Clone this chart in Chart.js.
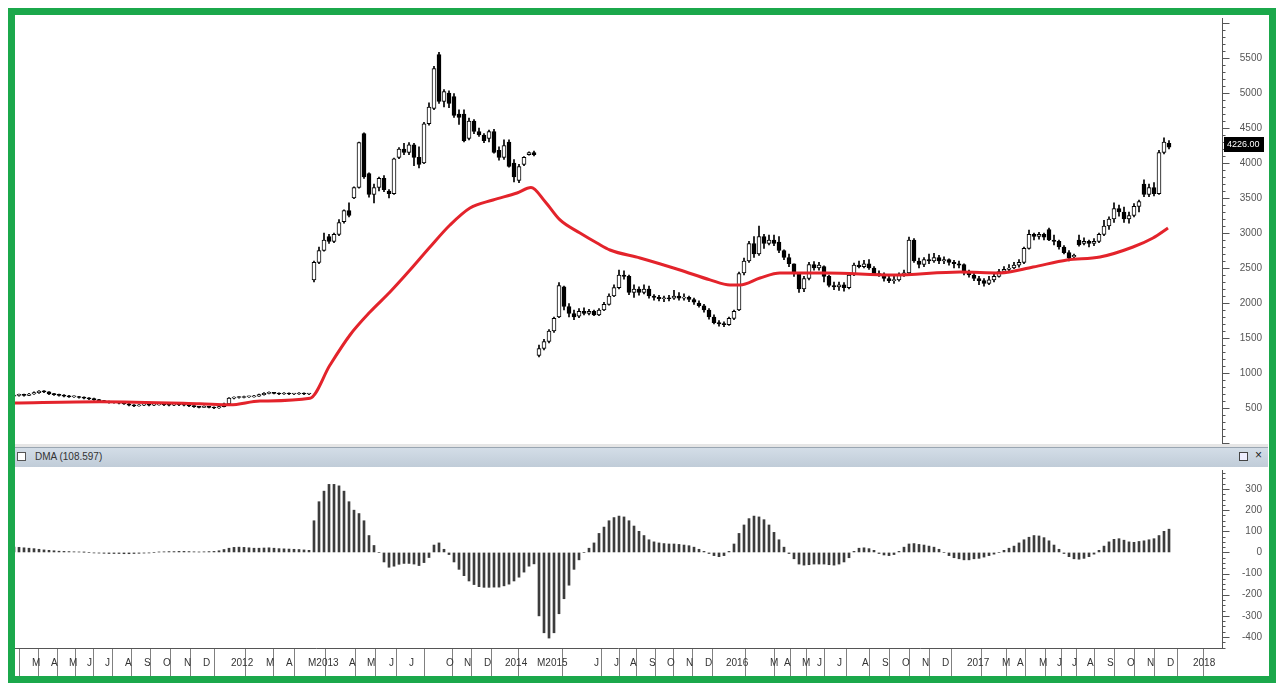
<!DOCTYPE html>
<html><head><meta charset="utf-8">
<script src="https://cdn.jsdelivr.net/npm/chart.js@4.4.1/dist/chart.umd.min.js"></script>
<style>
html,body{margin:0;padding:0;background:#fff;width:1276px;height:683px;overflow:hidden;font-family:"Liberation Sans",Arial,sans-serif;}
#top{position:absolute;left:0;top:0;}
#bot{position:absolute;left:0;top:460px;}
#hdr{position:absolute;z-index:2;left:14px;top:444px;width:1254px;height:23px;background:linear-gradient(#e6e6e6 0,#e6e6e6 3px,#9aa6b2 3px,#9aa6b2 4px,#d3dde7 4px,#c0ccd8 100%);}
#hdr .t{position:absolute;left:21px;top:7px;font-size:10px;color:#333;}
#hdr .cb{position:absolute;left:3px;top:8px;width:7px;height:7px;border:1px solid #555;background:#fff;}
#hdr .i1{position:absolute;left:1225px;top:8px;width:7px;height:7px;border:1px solid #444;background:#eef;}
#hdr .i2{position:absolute;left:1241px;top:4px;font-size:12px;color:#222;}
#frame{position:absolute;z-index:3;left:8px;top:8px;width:1254px;height:661px;border:7px solid #1ba84b;pointer-events:none;}
</style></head>
<body>
<canvas id="top" width="1268" height="450"></canvas>
<div id="hdr"><div class="cb"></div><div class="t">DMA (108.597)</div><div class="i1"></div><div class="i2">×</div></div>
<canvas id="bot" width="1268" height="216"></canvas>
<div id="frame"></div>
<script>
const priceOpen = [
670,680,690,680,700,720,740,730,700,690,
680,670,660,660,650,640,630,620,600,590,
580,580,570,560,540,530,540,550,540,545,
550,545,540,550,545,540,530,520,510,520,
510,500,520,560,640,650,650,660,660,670,
690,710,720,710,700,710,700,700,710,700,
2330,2580,2750,2950,2880,2980,3160,3320,3500,3650,
4420,3850,3550,3650,3780,3600,3560,4080,4200,4150,
4260,4080,4000,4560,4780,5550,4880,5000,4950,4700,
4700,4350,4600,4450,4400,4350,4450,4180,4080,4300,
4000,3750,3980,4120,4150,1250,1350,1450,1600,1800,
2230,1950,1850,1810,1880,1850,1880,1830,1900,1980,
2100,2220,2400,2380,2150,2200,2150,2200,2100,2080,
2060,2070,2070,2100,2070,2080,2050,2000,1960,1900,
1800,1720,1700,1690,1780,1900,2430,2600,2850,2700,
2950,2850,2900,2870,2750,2650,2560,2420,2200,2350,
2550,2500,2520,2380,2250,2230,2260,2220,2400,2540,
2520,2560,2500,2420,2400,2350,2320,2330,2400,2430,
2900,2600,2550,2620,2600,2650,2600,2620,2580,2560,
2550,2430,2400,2350,2320,2280,2330,2380,2450,2480,
2500,2540,2580,2780,2980,2950,2980,3050,2900,2880,
2800,2720,2660,2900,2850,2880,2850,2880,2980,3100,
3200,3350,3300,3200,3250,3380,3700,3550,3650,3560,
4150,4280];
const priceHigh = [
695,700,700,710,730,750,750,735,710,700,
690,680,675,665,660,650,640,625,610,600,
595,585,575,565,550,550,560,555,555,560,
555,550,560,555,550,545,535,525,530,525,
515,530,570,650,660,665,670,670,680,700,
720,730,725,715,720,715,710,720,715,710,
2600,2800,3000,2980,3000,3190,3330,3430,3660,4300,
4430,3860,3700,3800,3820,3620,4070,4220,4280,4290,
4280,4230,4580,4860,5380,5580,5050,5030,4990,4760,
4760,4640,4620,4500,4420,4470,4480,4230,4330,4330,
4050,3980,4090,4160,4170,1400,1480,1620,1800,2290,
2240,1990,1900,1920,1930,1910,1900,1920,2010,2130,
2260,2470,2460,2400,2260,2230,2260,2240,2120,2110,
2100,2110,2180,2150,2130,2100,2070,2030,1980,1920,
1830,1750,1730,1800,1900,2440,2640,2880,2950,3100,
2980,2970,2970,2950,2760,2700,2560,2430,2380,2580,
2590,2580,2530,2400,2300,2300,2290,2430,2570,2600,
2610,2620,2520,2460,2430,2400,2380,2430,2470,2940,
2920,2640,2650,2700,2710,2680,2660,2630,2610,2600,
2560,2470,2430,2380,2350,2380,2420,2480,2520,2550,
2580,2620,2800,3040,3000,3010,3000,3070,2970,2900,
2820,2750,2700,2970,2930,2900,2920,3000,3180,3230,
3430,3400,3370,3300,3420,3470,3760,3700,3720,4180,
4360,4320];
const priceLow = [
660,670,670,675,695,710,720,690,680,670,
660,650,650,640,630,620,610,590,580,570,
570,560,550,530,520,525,535,530,535,540,
535,530,535,535,530,520,510,500,505,500,
490,495,515,555,630,640,645,650,655,665,
685,700,700,690,695,690,690,695,690,690,
2300,2560,2740,2850,2860,2960,3140,3230,3490,3640,
3780,3510,3430,3600,3590,3500,3550,4060,4120,4120,
3960,3930,3990,4540,4760,4850,4800,4790,4650,4550,
4300,4330,4420,4380,4290,4300,4140,4040,4050,3940,
3730,3720,3960,4110,4100,1230,1330,1430,1580,1790,
1900,1800,1760,1790,1830,1830,1820,1820,1890,1970,
2090,2200,2340,2120,2080,2110,2130,2070,2040,2030,
2020,2030,2050,2040,2040,2020,1980,1940,1870,1770,
1700,1670,1660,1680,1760,1890,2400,2580,2650,2680,
2780,2830,2820,2720,2620,2520,2380,2150,2160,2330,
2470,2470,2300,2230,2190,2180,2170,2200,2390,2500,
2500,2480,2400,2380,2310,2290,2280,2310,2380,2420,
2580,2500,2520,2560,2580,2560,2560,2540,2500,2500,
2400,2370,2320,2260,2240,2260,2300,2370,2430,2460,
2490,2510,2560,2770,2900,2910,2900,2890,2830,2770,
2700,2600,2630,2810,2830,2800,2820,2860,2960,3050,
3150,3240,3150,3140,3230,3300,3520,3520,3530,3550,
4130,4200];
const priceClose = [
680,690,680,700,720,740,730,700,690,680,
670,660,660,650,640,630,620,600,590,580,
580,570,560,540,530,540,550,540,545,550,
545,540,550,545,540,530,520,510,520,510,
500,520,560,640,650,650,660,660,670,690,
710,720,710,700,710,700,700,710,700,700,
2580,2750,2900,2880,2980,3150,3320,3250,3650,4290,
3800,3550,3650,3780,3620,3560,4060,4200,4150,4260,
4080,3980,4560,4800,5350,4880,5020,4850,4680,4650,
4320,4600,4450,4400,4320,4450,4150,4080,4250,3950,
3800,3950,4080,4150,4120,1350,1450,1600,1780,2250,
1950,1850,1800,1880,1850,1880,1830,1900,1980,2100,
2220,2400,2380,2150,2200,2150,2200,2100,2080,2060,
2070,2060,2100,2070,2080,2050,2010,1960,1900,1800,
1720,1700,1690,1780,1880,2420,2600,2850,2700,2950,
2850,2900,2850,2750,2650,2560,2420,2200,2350,2550,
2500,2540,2380,2250,2230,2260,2220,2400,2540,2520,
2560,2500,2420,2400,2350,2320,2330,2400,2430,2900,
2600,2550,2620,2600,2650,2600,2620,2580,2560,2540,
2430,2400,2350,2320,2280,2330,2380,2450,2480,2500,
2540,2580,2780,2980,2950,2980,2940,2900,2880,2800,
2720,2640,2680,2830,2880,2850,2880,2980,3100,3200,
3350,3300,3200,3250,3380,3450,3550,3650,3560,4150,
4300,4226];
const dmaValues = [
25,24,22,20,18,15,12,10,8,6,
5,4,3,2,1,0,-2,-3,-4,-5,
-5,-5,-6,-6,-5,-4,-3,-2,0,2,
3,4,4,5,5,4,3,2,3,4,
5,8,14,20,24,25,24,22,20,20,
21,22,20,18,17,16,15,14,12,10,
150,240,290,322,322,315,290,240,200,184,
150,80,33,0,-45,-70,-65,-56,-52,-52,
-55,-62,-48,-24,35,45,15,-10,-45,-80,
-110,-135,-152,-162,-165,-165,-164,-164,-158,-150,
-135,-117,-93,-65,-54,-300,-380,-405,-380,-290,
-219,-155,-80,-35,0,20,45,90,120,150,
165,172,168,150,125,100,80,60,50,45,
42,40,40,38,35,32,25,15,5,-5,
-15,-20,-15,5,40,90,130,160,172,168,
155,130,95,60,25,-5,-30,-55,-60,-58,
-55,-55,-55,-58,-60,-55,-45,-25,5,20,
22,18,10,-5,-12,-15,-10,5,25,40,
42,38,35,30,25,15,0,-15,-25,-30,
-35,-35,-30,-28,-22,-15,-8,0,10,20,
30,45,60,72,80,78,70,55,35,15,
-5,-20,-30,-32,-28,-20,-8,10,30,50,
62,65,58,50,48,52,55,60,65,80,
100,110];
// moving average: bar position and value
const maIdx = [0,17.2,37.2,43.2,49.2,59.2,63.2,67.2,71.2,75.2,79.2,83.2,87.2,91.2,95.8,100.6,103.4,106.2,109.2,113.2,116.6,119.2,125.2,133.2,139.2,143.2,145.2,149.2,153.2,162.6,175.8,189.2,197.2,203.8,210.6,217.2,223.8,227.8,230.8];
const maVal = [571,590,560,545,600,640,1114,1543,1871,2157,2471,2800,3114,3357,3471,3571,3650,3450,3186,3000,2857,2757,2643,2471,2330,2257,2257,2357,2429,2429,2400,2443,2430,2514,2614,2657,2800,2929,3071];
const xTickIdx = [3.0,6.8,10.4,14.0,17.6,21.6,25.4,29.2,33.4,37.2,42.8,49.8,53.8,58.2,66.4,70.0,74.4,78.4,85.8,89.4,93.4,97.6,104.0,115.4,119.4,122.6,126.4,130.0,133.8,137.6,141.8,150.6,153.4,157.0,160.0,164.0,169.0,173.0,177.0,181.0,185.0,190.0,197.0,200.0,204.4,208.0,211.0,214.0,218.0,222.0,226.0,230.0,235.2];
const xTickLabels = ["M","A","M","J","J","A","S","O","N","D","2012","M","A","M2013","A","M","J","J","O","N","D","2014","M2015","J","J","A","S","O","N","D","2016","M","A","M","J","J","A","S","O","N","D","2017","M","A","M","J","J","A","S","O","N","D","2018"];
const priceTicks = [500,1000,1500,2000,2500,3000,3500,4000,4500,5000,5500];
const dmaTicks = [-400,-300,-200,-100,0,100,200,300];

const FONT = {family:'"Liberation Sans", Arial, sans-serif', size:10};
const axisTicks = {
  id:'axisTicks',
  afterDraw(chart, args, o){
    const s = chart.scales.y, ctx = chart.ctx;
    ctx.save(); ctx.strokeStyle = '#555'; ctx.lineWidth = 1;
    const x0 = Math.round(s.left) + 0.5;
    for (let v = o.from; v <= o.to; v += o.minor){
      const y = Math.round(s.getPixelForValue(v)) + 0.5;
      const len = (Math.abs(v) % o.major === 0) ? 7 : 3;
      ctx.beginPath(); ctx.moveTo(x0, y); ctx.lineTo(x0 + len, y); ctx.stroke();
    }
    ctx.restore();
  }
};
const priceTag = {
  id:'priceTag',
  afterDraw(chart){
    const s = chart.scales.y, ctx = chart.ctx;
    const v = priceClose[priceClose.length-1];
    const y = Math.round(s.getPixelForValue(v));
    ctx.save();
    ctx.fillStyle = '#000'; ctx.fillRect(s.left+2, y-10, 40, 15);
    ctx.fillStyle = '#fff'; ctx.font = '9px "Liberation Sans", Arial';
    ctx.textBaseline = 'middle'; ctx.textAlign = 'left';
    ctx.fillText(v.toFixed(2), s.left+5, y-2);
    ctx.restore();
  }
};

const idx = priceClose.map((_, i) => i);
const XMIN = 0, XMAX = 241.6;
const hiddenTicks = len => ({display:true, drawOnChartArea:false, drawTicks:true, tickLength:len, color:'rgba(0,0,0,0)'});

new Chart(document.getElementById('top'), {
  type:'bar',
  data:{datasets:[
    {type:'line', data:maIdx.map((x,k)=>({x, y:maVal[k]})), borderColor:'#e3232b', borderWidth:3, pointRadius:0, tension:0.4, cubicInterpolationMode:'monotone', fill:false},
    {data:idx.map(i=>({x:i, y:[priceOpen[i], priceClose[i]]})), grouped:false, barThickness:4, minBarLength:1,
     backgroundColor:c=>priceClose[c.dataIndex]>=priceOpen[c.dataIndex]?'#ffffff':'#000000',
     borderColor:'#000', borderWidth:1, borderSkipped:false},
    {data:idx.map(i=>({x:i, y:[priceLow[i], priceHigh[i]]})), grouped:false, barThickness:1, backgroundColor:'#000', borderWidth:0}
  ]},
  options:{
    responsive:false, animation:false, events:[], devicePixelRatio:1,
    layout:{padding:{left:14, top:18, bottom:7, right:6}},
    plugins:{legend:{display:false}, tooltip:{enabled:false}, axisTicks:{from:0, to:6000, minor:100, major:500}},
    scales:{
      x:{type:'linear', min:XMIN, max:XMAX, offset:false, display:false},
      y:{type:'linear', position:'right', min:0, max:6071,
        afterBuildTicks:s=>{s.ticks = priceTicks.map(v=>({value:v}));},
        afterFit:s=>{s.width = 40;},
        grid:hiddenTicks(12), border:{display:true, color:'#555'},
        ticks:{font:FONT, color:'#555', padding:0, crossAlign:'far', callback:v=>String(v)}}
    }
  },
  plugins:[axisTicks, priceTag]
});

new Chart(document.getElementById('bot'), {
  type:'bar',
  data:{datasets:[
    {data:idx.map(i=>({x:i, y:dmaValues[i]})), grouped:false, barThickness:2, backgroundColor:'#3c3c3c', borderWidth:0}
  ]},
  options:{
    responsive:false, animation:false, events:[], devicePixelRatio:1,
    layout:{padding:{left:14, top:10, bottom:0, right:6}},
    plugins:{legend:{display:false}, tooltip:{enabled:false}, axisTicks:{from:-450, to:375, minor:25, major:100}},
    scales:{
      x:{type:'linear', min:XMIN, max:XMAX, offset:false, position:'bottom',
        afterBuildTicks:s=>{s.ticks = xTickIdx.map(v=>({value:v}));},
        afterFit:s=>{s.height = 28;},
        grid:{display:true, drawOnChartArea:false, drawTicks:true, tickLength:28, color:'#808080'},
        border:{display:true, color:'#555'},
        ticks:{font:FONT, color:'#333', autoSkip:false, maxRotation:0, minRotation:0, align:'start', labelOffset:3, padding:-19,
          callback:(v,i)=>xTickLabels[i]}},
      y:{type:'linear', position:'right', min:-452, max:390,
        afterBuildTicks:s=>{s.ticks = dmaTicks.map(v=>({value:v}));},
        afterFit:s=>{s.width = 40;},
        grid:hiddenTicks(13), border:{display:true, color:'#555'},
        ticks:{font:FONT, color:'#555', padding:0, crossAlign:'far', callback:v=>String(v)}}
    }
  },
  plugins:[axisTicks]
});
</script>
</body></html>
